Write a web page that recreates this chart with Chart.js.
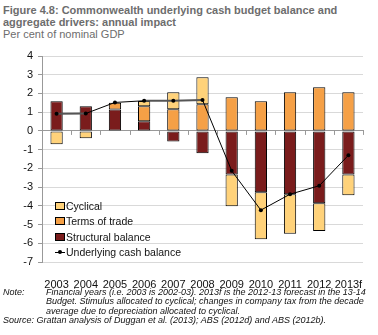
<!DOCTYPE html>
<html>
<head>
<meta charset="utf-8">
<script src="https://cdn.jsdelivr.net/npm/chart.js@4.4.1/dist/chart.umd.min.js"></script>
<style>
  body { margin: 0; width: 378px; height: 335px; background: #fff; font-family: "Liberation Sans", Arial, sans-serif; position: relative; overflow: hidden; }
  .title { position: absolute; left: 3px; top: 4px; font-size: 11px; font-weight: bold; color: #6d6d6d; line-height: 12px; }
  .sub { position: absolute; left: 3px; top: 28px; font-size: 11px; color: #6d6d6d; }
  #wrap { position: absolute; left: 0; top: 40px; width: 378px; height: 250px; }
  .legend { position: absolute; left: 55px; top: 198px; font-size: 10.5px; color: #111; }
  .legend div { height: 15.5px; display: flex; align-items: center; }
  .legend .box { width: 8px; height: 6px; border: 1px solid #000; margin-right: 1px; }
  .legend .ln { width: 10px; height: 1px; background: #000; position: relative; margin-right: 1px; }
  .legend .ln:after { content: ""; position: absolute; left: 3px; top: -1.5px; width: 4px; height: 4px; border-radius: 2px; background: #000; }
  .notes { position: absolute; left: 3px; top: 288px; font-size: 9px; font-style: italic; color: #111; line-height: 9.4px; white-space: nowrap; }
  .notes .row { display: flex; }
  .notes .lab { width: 43px; flex: none; }
</style>
</head>
<body>
<div class="title">Figure 4.8: Commonwealth underlying cash budget balance and<br>aggregate drivers: annual impact</div>
<div class="sub">Per cent of nominal GDP</div>
<div id="wrap"><canvas id="chart"></canvas></div>
<div class="legend">
  <div><span class="box" style="background:#ffd27a"></span>Cyclical</div>
  <div><span class="box" style="background:#f5a046"></span>Terms of trade</div>
  <div><span class="box" style="background:#7a1c1c"></span>Structural balance</div>
  <div><span class="ln"></span>Underlying cash balance</div>
</div>
<div class="notes">
  <div class="row"><span class="lab">Note:</span><span>Financial years (i.e. 2003 is 2002-03). 2013f is the 2012-13 forecast in the 13-14<br>Budget. Stimulus allocated to cyclical; changes in company tax from the decade<br>average due to depreciation allocated to cyclical.</span></div>
  <div>Source: Grattan analysis of Duggan et al. (2013); ABS (2012d) and ABS (2012b).</div>
</div>
<script>
const years = ['2003', '2004', '2005', '2006', '2007', '2008', '2009', '2010', '2011', '2012', '2013f'];
const structural = [1.58, 1.32, 1.14, 0.52, -0.57, -1.19, -2.33, -3.27, -3.38, -3.86, -2.33];
const termsOfTrade = [0, 0, 0.37, 0.80, 1.16, 1.42, 1.80, 1.58, 2.06, 2.33, 2.06];
const cyclical = [-0.71, -0.39, 0, 0.28, 0.90, 1.44, -1.69, -2.51, -2.11, -1.49, -1.10];
const underlying = [0.92, 0.93, 1.52, 1.61, 1.61, 1.65, -2.13, -4.23, -3.38, -2.93, -1.30];
const yTicks = [4, 3, 2, 1, 0, -1, -2, -3, -4, -5, -6, -7];

const barStyle = { borderColor: '#000', borderWidth: 1, borderSkipped: false, barPercentage: 0.42, categoryPercentage: 1, stack: 'drivers', order: 2 };
// segments drawn in the heavier grey, as in the original
const greySegments = [0, 3, 4];

// small tick marks under the zero line, between categories
const zeroTicks = {
  id: 'zeroTicks',
  afterDatasetsDraw(chart) {
    const { ctx, scales: { x, y } } = chart;
    const y0 = y.getPixelForValue(0);
    const step = x.width / years.length;
    ctx.save();
    ctx.strokeStyle = '#999';
    ctx.lineWidth = 1;
    for (let i = 1; i <= years.length; i++) {
      const px = Math.round(x.left + i * step) + 0.5;
      ctx.beginPath();
      ctx.moveTo(px, y0);
      ctx.lineTo(px, y0 + 4);
      ctx.stroke();
    }
    ctx.restore();
  }
};

new Chart(document.getElementById('chart'), {
  type: 'bar',
  data: {
    labels: years,
    datasets: [
      { type: 'line', label: 'Underlying cash balance', data: underlying, stack: 'line', order: 1,
        borderColor: '#000', borderWidth: 1, pointRadius: 2, pointBackgroundColor: '#000', pointBorderWidth: 0,
        segment: {
          borderWidth: ctx => greySegments.includes(ctx.p0DataIndex) ? 2 : 1,
          borderColor: ctx => greySegments.includes(ctx.p0DataIndex) ? '#555' : '#000'
        } },
      { label: 'Structural balance', data: structural, backgroundColor: '#7a1c1c', ...barStyle },
      { label: 'Terms of trade', data: termsOfTrade, backgroundColor: '#f5a046', ...barStyle },
      { label: 'Cyclical', data: cyclical, backgroundColor: '#ffd27a', ...barStyle }
    ]
  },
  options: {
    responsive: true,
    maintainAspectRatio: false,
    animation: false,
    layout: { padding: { top: 16, right: 15, bottom: 0, left: 0 } },
    plugins: { legend: { display: false }, tooltip: { enabled: false } },
    scales: {
      x: {
        stacked: true,
        position: { y: 0 },
        ticks: { display: false },
        grid: { drawOnChartArea: false, drawTicks: false },
        border: { color: '#999' }
      },
      x2: {
        type: 'category',
        labels: years,
        position: 'bottom',
        offset: true,
        grid: { display: false },
        border: { display: false },
        ticks: { color: '#111', font: { family: 'Liberation Sans', size: 11 }, padding: 8, maxRotation: 0, autoSkip: false },
        afterFit: s => { s.height = 28; }
      },
      y: {
        stacked: true,
        min: -7,
        max: 4,
        afterBuildTicks: s => { s.ticks = yTicks.map(v => ({ value: v })); },
        ticks: { color: '#111', font: { family: 'Liberation Sans', size: 11 }, padding: 5 },
        grid: { color: ctx => ctx.tick && ctx.tick.value === 0 ? 'rgba(0,0,0,0)' : '#d9d9d9', tickColor: '#999', tickLength: 4 },
        border: { color: '#999' },
        afterFit: s => { s.width = 42; }
      }
    }
  },
  plugins: [zeroTicks]
});
</script>
</body>
</html>
